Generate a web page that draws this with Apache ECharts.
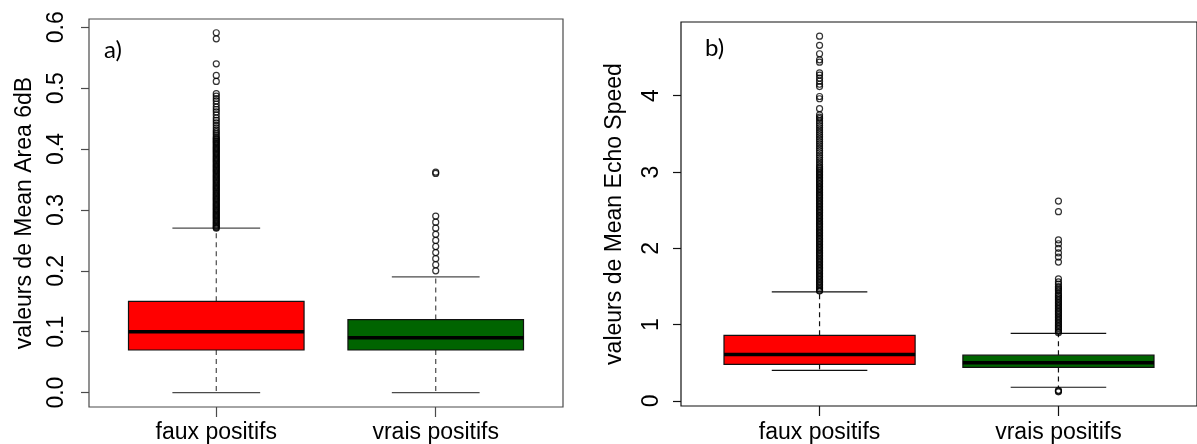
<!DOCTYPE html>
<html>
<head>
<meta charset="utf-8">
<script src="https://cdn.jsdelivr.net/npm/echarts@6/dist/echarts.min.js"></script>
<style>
html,body{margin:0;padding:0;background:#fff;}
#chart{width:1197px;height:444px;}
</style>
</head>
<body>
<div id="chart"></div>
<script>
// ---------- DATA ----------
const categories = ['faux positifs', 'vrais positifs'];
const boxColors = ['#FF0000', '#006400'];

// [min whisker, Q1, median, Q3, max whisker]
const areaStats = [[0.0, 0.07, 0.10, 0.15, 0.27], [0.0, 0.07, 0.09, 0.12, 0.19]];
const speedStats = [[0.40, 0.48, 0.61, 0.86, 1.43], [0.18, 0.44, 0.50, 0.60, 0.885]];

const areaOutFaux = [0.591, 0.581, 0.540, 0.521, 0.511, 0.491, 0.487, 0.483, 0.479, 0.474, 0.469, 0.465,
  0.461, 0.456, 0.451, 0.447, 0.443, 0.439, 0.435, 0.431, 0.428, 0.425, 0.422, 0.419, 0.417, 0.415, 0.413,
  0.411, 0.409, 0.407, 0.405, 0.403, 0.401, 0.399, 0.397, 0.395, 0.393, 0.391, 0.389, 0.387, 0.385, 0.383,
  0.381, 0.379, 0.377, 0.375, 0.373, 0.371, 0.369, 0.367, 0.365, 0.363, 0.361, 0.359, 0.357, 0.355, 0.353,
  0.351, 0.349, 0.347, 0.345, 0.343, 0.341, 0.339, 0.337, 0.335, 0.333, 0.331, 0.329, 0.327, 0.325, 0.323,
  0.321, 0.319, 0.317, 0.315, 0.313, 0.311, 0.309, 0.307, 0.305, 0.303, 0.301, 0.299, 0.297, 0.295, 0.293,
  0.291, 0.289, 0.287, 0.285, 0.283, 0.281, 0.279, 0.277, 0.275, 0.273, 0.271, 0.270];
const areaOutVrais = [0.362, 0.360, 0.29, 0.28, 0.27, 0.26, 0.25, 0.24, 0.23, 0.22, 0.21, 0.20];

const speedOutFaux = [4.78, 4.66, 4.55, 4.47, 4.44, 4.30, 4.27, 4.23, 4.19, 4.15, 4.12, 3.99, 3.96, 3.83,
  3.75, 3.72, 3.70, 3.67, 3.64, 3.61, 3.58, 3.55, 3.52, 3.49, 3.46, 3.43, 3.40, 3.37, 3.34, 3.31, 3.28,
  3.25, 3.22, 3.19, 3.16, 3.13, 3.10, 3.07, 3.05, 3.03, 3.01, 2.99, 2.97, 2.95, 2.93, 2.91, 2.89, 2.87,
  2.85, 2.83, 2.81, 2.79, 2.77, 2.75, 2.73, 2.71, 2.69, 2.67, 2.65, 2.63, 2.61, 2.59, 2.57, 2.55, 2.53,
  2.51, 2.49, 2.47, 2.45, 2.43, 2.41, 2.39, 2.37, 2.35, 2.33, 2.31, 2.29, 2.27, 2.25, 2.23, 2.21, 2.19,
  2.17, 2.15, 2.13, 2.11, 2.09, 2.07, 2.05, 2.03, 2.01, 1.99, 1.97, 1.95, 1.93, 1.91, 1.89, 1.87, 1.85,
  1.83, 1.81, 1.79, 1.77, 1.75, 1.73, 1.71, 1.69, 1.67, 1.65, 1.63, 1.61, 1.59, 1.57, 1.55, 1.53, 1.51,
  1.49, 1.47, 1.45, 1.44];
const speedOutVrais = [2.62, 2.48, 2.11, 2.06, 2.00, 1.94, 1.885, 1.82, 1.60, 1.56, 1.53, 1.50, 1.48,
  1.46, 1.44, 1.41, 1.39, 1.37, 1.35, 1.33, 1.31, 1.29, 1.27, 1.25, 1.23, 1.21, 1.19, 1.17, 1.15, 1.13,
  1.11, 1.09, 1.07, 1.05, 1.03, 1.01, 0.99, 0.97, 0.95, 0.93, 0.91, 0.895, 0.14, 0.13, 0.12];

const areaTicks = [0.0, 0.1, 0.2, 0.3, 0.4, 0.5, 0.6];
const speedTicks = [0, 1, 2, 3, 4];
const catPositions = [1, 2];
const xRange = [0.42, 2.58];
const areaRange = [-0.0236, 0.6136];
const speedRange = [-0.066, 4.966];

const areaTitle = 'valeurs de Mean Area 6dB';
const speedTitle = 'valeurs de Mean Echo Speed';
const panelLabels = ['a)', 'b)'];

// ---------- CHART ----------
const FONT = '"Liberation Sans", Arial, sans-serif';

function makeBoxRender(lineColor) {
  return function (params, api) {
    const x = api.value(0);
    const mn = api.value(1), q1 = api.value(2), md = api.value(3), q3 = api.value(4), mx = api.value(5);
    const c = (a, b) => api.coord([a, b]);
    const fill = boxColors[params.dataIndex];
    const tl = c(x - 0.4, q3), br = c(x + 0.4, q1);
    const pMid = (v) => c(x, v);
    const line = (p1, p2, style) => ({
      type: 'line',
      shape: { x1: p1[0], y1: p1[1], x2: p2[0], y2: p2[1] },
      style: Object.assign({ stroke: lineColor, lineWidth: 1.2 }, style || {})
    });
    return {
      type: 'group',
      children: [
        line(pMid(q3), pMid(mx), { lineDash: [5, 4] }),
        line(pMid(q1), pMid(mn), { lineDash: [5, 4] }),
        line(c(x - 0.2, mx), c(x + 0.2, mx)),
        line(c(x - 0.2, mn), c(x + 0.2, mn)),
        {
          type: 'rect',
          shape: { x: tl[0], y: tl[1], width: br[0] - tl[0], height: br[1] - tl[1] },
          style: { fill: fill, stroke: '#111', lineWidth: 1.2 }
        },
        line(c(x - 0.4, md), c(x + 0.4, md), { stroke: '#000', lineWidth: 3.5 })
      ]
    };
  };
}

function boxData(stats) {
  return stats.map((s, i) => [catPositions[i]].concat(s));
}
function outData(vals, pos) {
  return vals.map(v => [pos, v]);
}

function xAxisFor(gridIndex, color, margin) {
  return {
    gridIndex: gridIndex, type: 'value', min: xRange[0], max: xRange[1],
    position: 'bottom',
    axisLine: { show: false, onZero: false },
    splitLine: { show: false },
    axisTick: { show: true, inside: false, length: 10, customValues: catPositions, lineStyle: { color: color, width: 1.2 } },
    axisLabel: {
      show: true, customValues: catPositions, margin: margin,
      color: '#000', fontSize: 23, fontFamily: FONT,
      formatter: (v) => categories[catPositions.indexOf(Math.round(v))] || ''
    }
  };
}

function yAxisFor(gridIndex, range, ticks, digits, title, color, labelSize, labelMargin, nameGap) {
  return {
    gridIndex: gridIndex, type: 'value', min: range[0], max: range[1],
    axisLine: { show: false, onZero: false },
    splitLine: { show: false },
    axisTick: { show: true, inside: false, length: 8, customValues: ticks, lineStyle: { color: color, width: 1.2 } },
    axisLabel: {
      show: true, customValues: ticks, rotate: 90, margin: labelMargin,
      color: '#000', fontSize: labelSize, fontFamily: FONT,
      formatter: (v) => v.toFixed(digits)
    },
    name: title, nameLocation: 'middle', nameRotate: 90, nameGap: nameGap,
    nameTextStyle: { color: '#000', fontSize: 23, fontFamily: FONT }
  };
}

const leftColor = '#4a4a4a';
const rightColor = '#111';

const outlierStyle = { color: 'rgba(0,0,0,0)', borderColor: '#000', borderWidth: 1.2 };

const option = {
  animation: false,
  backgroundColor: '#fff',
  grid: [
    { left: 89, top: 19, width: 474, height: 388, show: true, borderColor: leftColor, borderWidth: 1.2, backgroundColor: 'transparent' },
    { left: 681, top: 22, width: 529, height: 386, show: true, borderColor: rightColor, borderWidth: 1.2, backgroundColor: 'transparent' }
  ],
  xAxis: [xAxisFor(0, leftColor, 14), xAxisFor(1, rightColor, 15)],
  yAxis: [
    yAxisFor(0, areaRange, areaTicks, 1, areaTitle, leftColor, 23, 21, 53),
    yAxisFor(1, speedRange, speedTicks, 0, speedTitle, rightColor, 23, 18, 55)
  ],
  graphic: [
    { type: 'text', left: 104, top: 38, style: { text: panelLabels[0], fontSize: 24, fontFamily: 'Lato, "Open Sans", sans-serif', fill: '#000' } },
    { type: 'text', left: 705, top: 36, style: { text: panelLabels[1], fontSize: 24, fontFamily: 'Lato, "Open Sans", sans-serif', fill: '#000' } }
  ],
  series: [
    { type: 'custom', xAxisIndex: 0, yAxisIndex: 0, renderItem: makeBoxRender(leftColor), data: boxData(areaStats), encode: { x: 0, y: [1, 2, 3, 4, 5] }, silent: true },
    { type: 'custom', xAxisIndex: 1, yAxisIndex: 1, renderItem: makeBoxRender(rightColor), data: boxData(speedStats), encode: { x: 0, y: [1, 2, 3, 4, 5] }, silent: true },
    { type: 'scatter', xAxisIndex: 0, yAxisIndex: 0, symbol: 'circle', symbolSize: 6, itemStyle: outlierStyle, data: outData(areaOutFaux, catPositions[0]), silent: true },
    { type: 'scatter', xAxisIndex: 0, yAxisIndex: 0, symbol: 'circle', symbolSize: 6, itemStyle: outlierStyle, data: outData(areaOutVrais, catPositions[1]), silent: true },
    { type: 'scatter', xAxisIndex: 1, yAxisIndex: 1, symbol: 'circle', symbolSize: 6, itemStyle: outlierStyle, data: outData(speedOutFaux, catPositions[0]), silent: true },
    { type: 'scatter', xAxisIndex: 1, yAxisIndex: 1, symbol: 'circle', symbolSize: 6, itemStyle: outlierStyle, data: outData(speedOutVrais, catPositions[1]), silent: true }
  ]
};

const chart = echarts.init(document.getElementById('chart'), null, { renderer: 'canvas' });
chart.setOption(option);
</script>
</body>
</html>
